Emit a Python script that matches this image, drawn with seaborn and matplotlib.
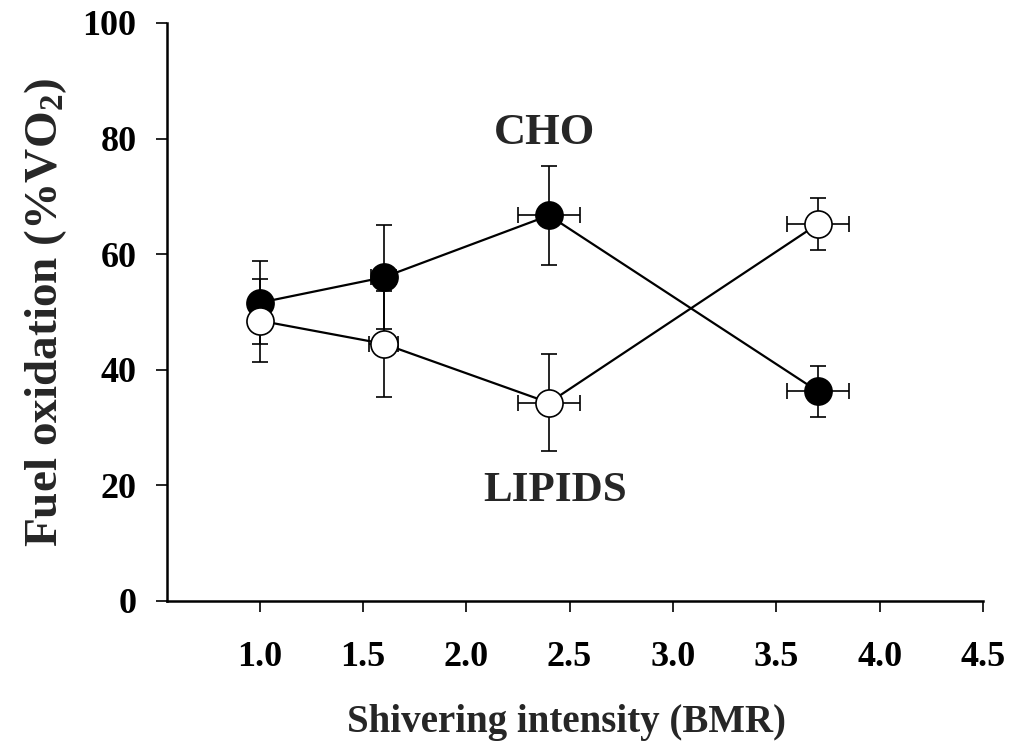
import matplotlib
matplotlib.use("Agg")
import matplotlib.pyplot as plt
import seaborn as sns
import pandas as pd

# Data
intensity = [1.0, 1.6, 2.4, 3.7]
cho_mean = [51.6, 56.0, 66.7, 36.3]
cho_yerr = [7.2, 9.0, 8.6, 4.4]
cho_xerr = [0.0, 0.06, 0.15, 0.15]
lip_mean = [48.5, 44.5, 34.3, 65.2]
lip_yerr = [7.2, 9.2, 8.4, 4.5]
lip_xerr = [0.0, 0.07, 0.15, 0.15]
xticks = [1.0, 1.5, 2.0, 2.5, 3.0, 3.5, 4.0, 4.5]
yticks = [0, 20, 40, 60, 80, 100]

sns.set_theme(style="ticks")
plt.rcParams["font.family"] = ["Liberation Serif", "DejaVu Serif"]
plt.rcParams["font.weight"] = "bold"
plt.rcParams["mathtext.fontset"] = "custom"
plt.rcParams["mathtext.rm"] = "Liberation Serif:bold"
plt.rcParams["mathtext.it"] = "Liberation Serif:bold"
plt.rcParams["mathtext.bf"] = "Liberation Serif:bold"

df_cho = pd.DataFrame({"x": intensity, "y": cho_mean})
df_lip = pd.DataFrame({"x": intensity, "y": lip_mean})

fig = plt.figure(figsize=(10.15, 7.46), dpi=100)
ax = fig.add_axes([0.1645, 0.1944, 0.804, 0.7748])

ekw = dict(fmt="none", ecolor="black", elinewidth=1.2, capsize=6, capthick=1.2, zorder=1)
ax.errorbar(intensity, cho_mean, yerr=cho_yerr, xerr=cho_xerr, **ekw)
ax.errorbar(intensity, lip_mean, yerr=lip_yerr, xerr=lip_xerr, **ekw)

sns.lineplot(data=df_cho, x="x", y="y", ax=ax, color="black", linewidth=1.6,
             marker="o", markersize=19.5, markerfacecolor="black",
             markeredgecolor="black", markeredgewidth=1.2, zorder=3)
sns.lineplot(data=df_lip, x="x", y="y", ax=ax, color="black", linewidth=1.6,
             marker="o", markersize=19.5, markerfacecolor="white",
             markeredgecolor="black", markeredgewidth=1.2, zorder=4)

ax.set_xlim(0.552, 4.5)
ax.set_ylim(0, 100)
ax.set_xticks(xticks)
ax.set_xticklabels([f"{t:.1f}" for t in xticks])
ax.set_yticks(yticks)
ax.set_yticklabels([str(t) for t in yticks])
ax.tick_params(axis="both", direction="out", length=8, width=1.2, colors="black",
               labelsize=26)
ax.tick_params(axis="x", pad=21)
ax.tick_params(axis="y", pad=14)
for lab in ax.get_xticklabels() + ax.get_yticklabels():
    lab.set_fontweight("bold")

sns.despine(ax=ax)
for s in ["left", "bottom"]:
    ax.spines[s].set_linewidth(1.8)
    ax.spines[s].set_color("black")

ax.set_xlabel("Shivering intensity (BMR)", fontsize=28, fontweight="bold")
ax.xaxis.set_label_coords(0.49, -0.178)
ax.set_ylabel("Fuel oxidation (%VO$_2$)", fontsize=34, fontweight="bold", labelpad=10)

ax.text(2.38, 81, "CHO", fontsize=32, fontweight="bold", ha="center", va="center")
ax.text(2.43, 19, "LIPIDS", fontsize=31, fontweight="bold", ha="center", va="center")

fig.savefig("out.png", dpi=100)
